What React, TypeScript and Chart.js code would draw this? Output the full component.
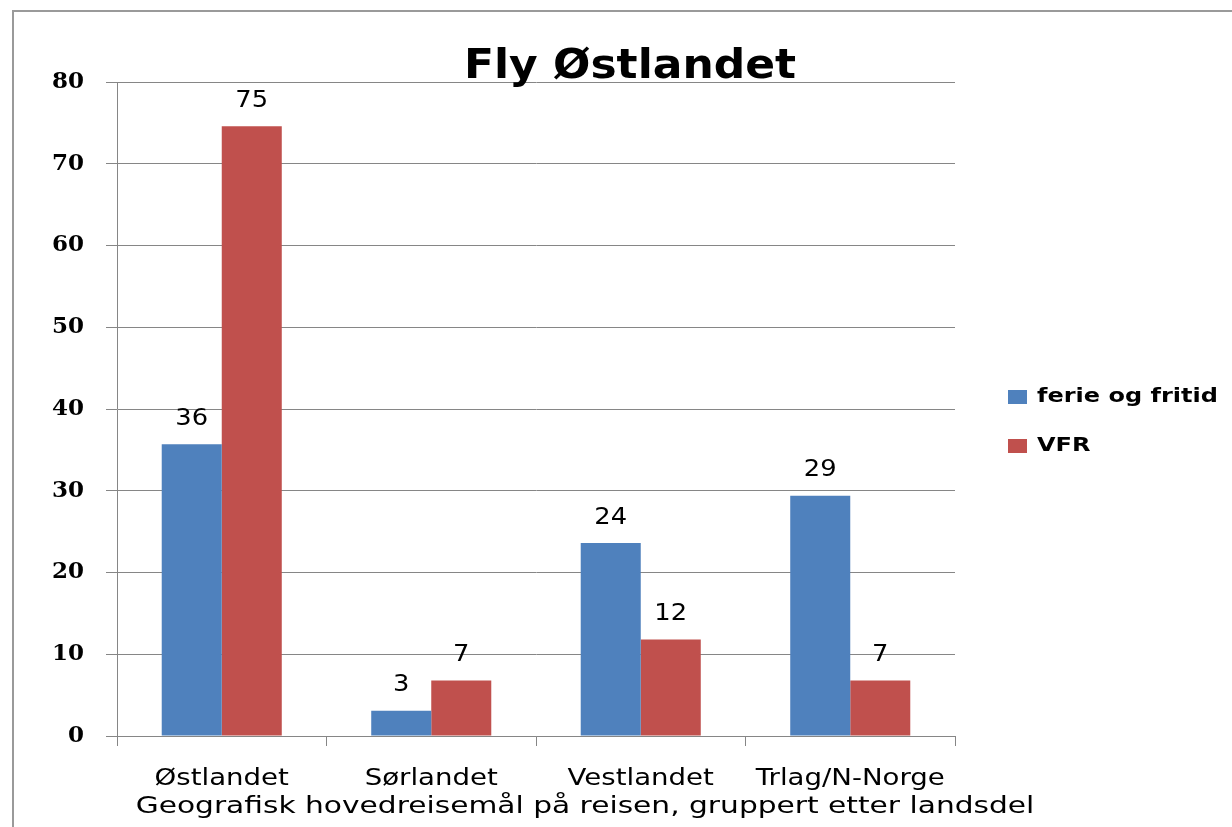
import { useEffect, useRef } from 'react';
import { Chart, registerables } from 'chart.js';

Chart.register(...registerables);

const W = 1232;
const H = 827;

const chartTitle = 'Fly Østlandet';
const axisTitle = 'Geografisk hovedreisemål på reisen, gruppert etter landsdel';
const categories = ['Østlandet', 'Sørlandet', 'Vestlandet', 'Trlag/N-Norge'];
const seriesNames = ['ferie og fritid', 'VFR'];
const ferieValues = [35.7, 3.1, 23.6, 29.4];
const vfrValues = [74.6, 6.8, 11.8, 6.8];
const yMin = 0;
const yMax = 80;
const yStep = 10;

const BLUE = '#4F81BD';
const RED = '#C0504D';
const GRID = '#868686';

const plotLeft = 117;
const plotRight = 955;
const plotTop = 82;
const plotBottom = 736;

function stretchText(ctx: CanvasRenderingContext2D, text: string, x: number, y: number, sx: number) {
  ctx.save();
  ctx.translate(x, y);
  ctx.scale(sx, 1);
  ctx.fillText(text, 0, 0);
  ctx.restore();
}

const overlay = {
  id: 'overlay',
  afterDatasetsDraw(chart: any) {
    const ctx = chart.ctx;
    ctx.save();
    ctx.fillStyle = '#000';
    ctx.font = '23px "DejaVu Sans"';
    ctx.textAlign = 'center';
    ctx.textBaseline = 'bottom';
    chart.data.datasets.forEach((ds: any, di: number) => {
      const meta = chart.getDatasetMeta(di);
      meta.data.forEach((bar: any, i: number) => {
        stretchText(ctx, String(Math.round(ds.data[i])), bar.x, bar.y - 14, 1.12);
      });
    });
    ctx.restore();
  },
  afterDraw(chart: any) {
    const ctx = chart.ctx;
    ctx.save();
    ctx.fillStyle = '#000';
    // title
    ctx.font = 'bold 40px "DejaVu Sans"';
    ctx.textAlign = 'center';
    ctx.textBaseline = 'alphabetic';
    stretchText(ctx, chartTitle, 630, 78, 1.1);
    // category labels
    const xs = chart.scales.x;
    ctx.font = '23px "DejaVu Sans"';
    ctx.textBaseline = 'middle';
    categories.forEach((c, i) => {
      stretchText(ctx, c, xs.getPixelForValue(i), 779, 1.2);
    });
    // axis title
    stretchText(ctx, axisTitle, 585, 807, 1.29);
    // legend
    const colors = [BLUE, RED];
    ctx.textAlign = 'left';
    ctx.font = 'bold 20px "DejaVu Sans"';
    seriesNames.forEach((name, i) => {
      const cy = 397 + i * 49;
      ctx.fillStyle = colors[i];
      ctx.fillRect(1008, cy - 7, 19, 14);
      ctx.fillStyle = '#000';
      stretchText(ctx, name, 1037, cy, 1.2);
    });
    ctx.restore();
  },
};

export default function App() {
  const ref = useRef<HTMLCanvasElement | null>(null);

  useEffect(() => {
    if (!ref.current) return;
    const chart = new Chart(ref.current, {
      type: 'bar',
      data: {
        labels: categories,
        datasets: [
          { label: seriesNames[0], data: ferieValues, backgroundColor: BLUE },
          { label: seriesNames[1], data: vfrValues, backgroundColor: RED },
        ],
      },
      options: {
        animation: false,
        responsive: false,
        maintainAspectRatio: false,
        layout: { padding: { left: 0, right: W - plotRight, top: plotTop, bottom: 0 } },
        datasets: { bar: { categoryPercentage: 0.573, barPercentage: 1 } },
        plugins: {
          legend: { display: false },
          title: { display: false },
          tooltip: { enabled: false },
        },
        scales: {
          x: {
            offset: true,
            grid: { drawOnChartArea: false, drawTicks: true, tickLength: 10, color: GRID, offset: true },
            border: { color: GRID },
            ticks: { display: false },
            afterFit: (s: any) => { s.height = H - plotBottom; },
          },
          y: {
            min: yMin,
            max: yMax,
            grid: { color: GRID, tickLength: 11 },
            border: { color: GRID },
            ticks: { stepSize: yStep, color: '#000', font: { family: 'DejaVu Serif', size: 23, weight: 'bold' }, padding: 22 },
            afterFit: (s: any) => { s.width = plotLeft; },
          },
        },
      },
      plugins: [overlay],
    });
    return () => chart.destroy();
  }, []);

  return (
    <div style={{ position: 'fixed', left: 0, top: 0, width: W, height: H, background: '#fff' }}>
      <div style={{ position: 'absolute', left: 12, top: 10, right: 0, bottom: 0, borderTop: '2px solid #9a9a9a', borderLeft: '2px solid #9a9a9a' }} />
      <canvas ref={ref} width={W} height={H} style={{ position: 'absolute', left: 0, top: 0, width: W, height: H }} />
    </div>
  );
}
